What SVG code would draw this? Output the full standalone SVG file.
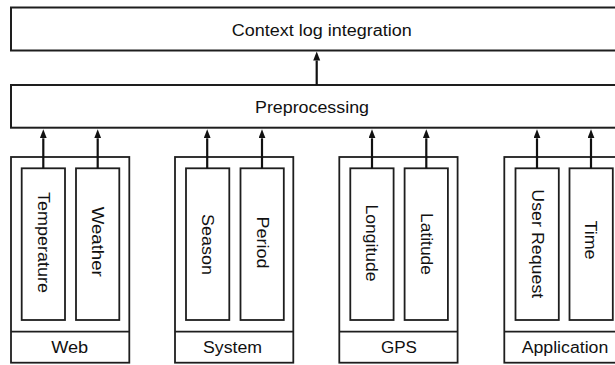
<svg xmlns="http://www.w3.org/2000/svg" width="615" height="365" viewBox="0 0 615 365">
<style>
.box{fill:#fff;stroke:#1e1e1e;stroke-width:1.8}
.big{fill:#fff;stroke:#1e1e1e;stroke-width:2}
.lbl{font-family:"Liberation Sans",Arial,sans-serif;font-size:16px;fill:#111;text-anchor:middle}
.con{stroke:#111;stroke-width:2.2;fill:none}
</style>
<defs>
<marker id="ah" markerUnits="userSpaceOnUse" markerWidth="10" markerHeight="8" refX="0" refY="3.5" orient="auto">
<path d="M0,0 L9,3.5 L0,7 z" fill="#111"/>
</marker>
</defs>
<rect width="615" height="365" fill="#fff"/>
<g id="context">
<rect class="big" x="11" y="7.5" width="614" height="43"/>
<text class="lbl" x="321.7" y="35.7" textLength="180" lengthAdjust="spacingAndGlyphs">Context log integration</text>
</g>
<g id="preprocessing">
<rect class="big" x="11" y="85" width="614" height="42.7"/>
<text class="lbl" x="312" y="113" textLength="114" lengthAdjust="spacingAndGlyphs">Preprocessing</text>
</g>
<g id="web">
<rect class="box" x="11" y="157" width="118.3" height="205.7"/>
<line class="box" x1="11" y1="331.7" x2="129.3" y2="331.7"/>
<text class="lbl" x="69.7" y="353.3" textLength="37" lengthAdjust="spacingAndGlyphs">Web</text>
</g>
<g id="temperature">
<rect class="box" x="21.7" y="168.3" width="43.3" height="151.7"/>
<text class="lbl" transform="translate(38,242.4) rotate(90)" textLength="101" lengthAdjust="spacingAndGlyphs">Temperature</text>
</g>
<g id="weather">
<rect class="box" x="76" y="168.3" width="43.3" height="151.7"/>
<text class="lbl" transform="translate(92,241.7) rotate(90)" textLength="70" lengthAdjust="spacingAndGlyphs">Weather</text>
</g>
<g id="system">
<rect class="box" x="175" y="157" width="118.3" height="205.7"/>
<line class="box" x1="175" y1="331.7" x2="293.3" y2="331.7"/>
<text class="lbl" x="232.5" y="353.3" textLength="59" lengthAdjust="spacingAndGlyphs">System</text>
</g>
<g id="season">
<rect class="box" x="186" y="168.3" width="43.3" height="151.7"/>
<text class="lbl" transform="translate(202,244.5) rotate(90)" textLength="61" lengthAdjust="spacingAndGlyphs">Season</text>
</g>
<g id="period">
<rect class="box" x="240.5" y="168.3" width="43.3" height="151.7"/>
<text class="lbl" transform="translate(256.5,242.5) rotate(90)" textLength="52" lengthAdjust="spacingAndGlyphs">Period</text>
</g>
<g id="gps">
<rect class="box" x="339.3" y="157" width="118.3" height="205.7"/>
<line class="box" x1="339.3" y1="331.7" x2="457.6" y2="331.7"/>
<text class="lbl" x="399" y="353.3" textLength="36" lengthAdjust="spacingAndGlyphs">GPS</text>
</g>
<g id="longitude">
<rect class="box" x="350.3" y="168.3" width="43.3" height="151.7"/>
<text class="lbl" transform="translate(366.3,243) rotate(90)" textLength="77" lengthAdjust="spacingAndGlyphs">Longitude</text>
</g>
<g id="latitude">
<rect class="box" x="404.6" y="168.3" width="43.3" height="151.7"/>
<text class="lbl" transform="translate(420.6,244) rotate(90)" textLength="62" lengthAdjust="spacingAndGlyphs">Latitude</text>
</g>
<g id="application">
<rect class="box" x="504.3" y="157" width="118.3" height="205.7"/>
<line class="box" x1="504.3" y1="331.7" x2="622.6" y2="331.7"/>
<text class="lbl" x="565" y="353.3" textLength="86.7" lengthAdjust="spacingAndGlyphs">Application</text>
</g>
<g id="user-request">
<rect class="box" x="515.5" y="168.3" width="43.3" height="151.7"/>
<text class="lbl" transform="translate(531.5,243.8) rotate(90)" textLength="109" lengthAdjust="spacingAndGlyphs">User Request</text>
</g>
<g id="time">
<rect class="box" x="569.5" y="168.3" width="43.3" height="151.7"/>
<text class="lbl" transform="translate(584.5,240) rotate(90)" textLength="39" lengthAdjust="spacingAndGlyphs">Time</text>
</g>
<g id="connectors">
<line class="con" x1="316.7" y1="85" x2="316.7" y2="60.5" marker-end="url(#ah)"/>
<line class="con" x1="43.3" y1="168.3" x2="43.3" y2="138.3" marker-end="url(#ah)"/>
<line class="con" x1="97.7" y1="168.3" x2="97.7" y2="138.3" marker-end="url(#ah)"/>
<line class="con" x1="207.2" y1="168.3" x2="207.2" y2="138.3" marker-end="url(#ah)"/>
<line class="con" x1="262" y1="168.3" x2="262" y2="138.3" marker-end="url(#ah)"/>
<line class="con" x1="372" y1="168.3" x2="372" y2="138.3" marker-end="url(#ah)"/>
<line class="con" x1="426.3" y1="168.3" x2="426.3" y2="138.3" marker-end="url(#ah)"/>
<line class="con" x1="537" y1="168.3" x2="537" y2="138.3" marker-end="url(#ah)"/>
<line class="con" x1="591" y1="168.3" x2="591" y2="138.3" marker-end="url(#ah)"/>
</g>
</svg>
